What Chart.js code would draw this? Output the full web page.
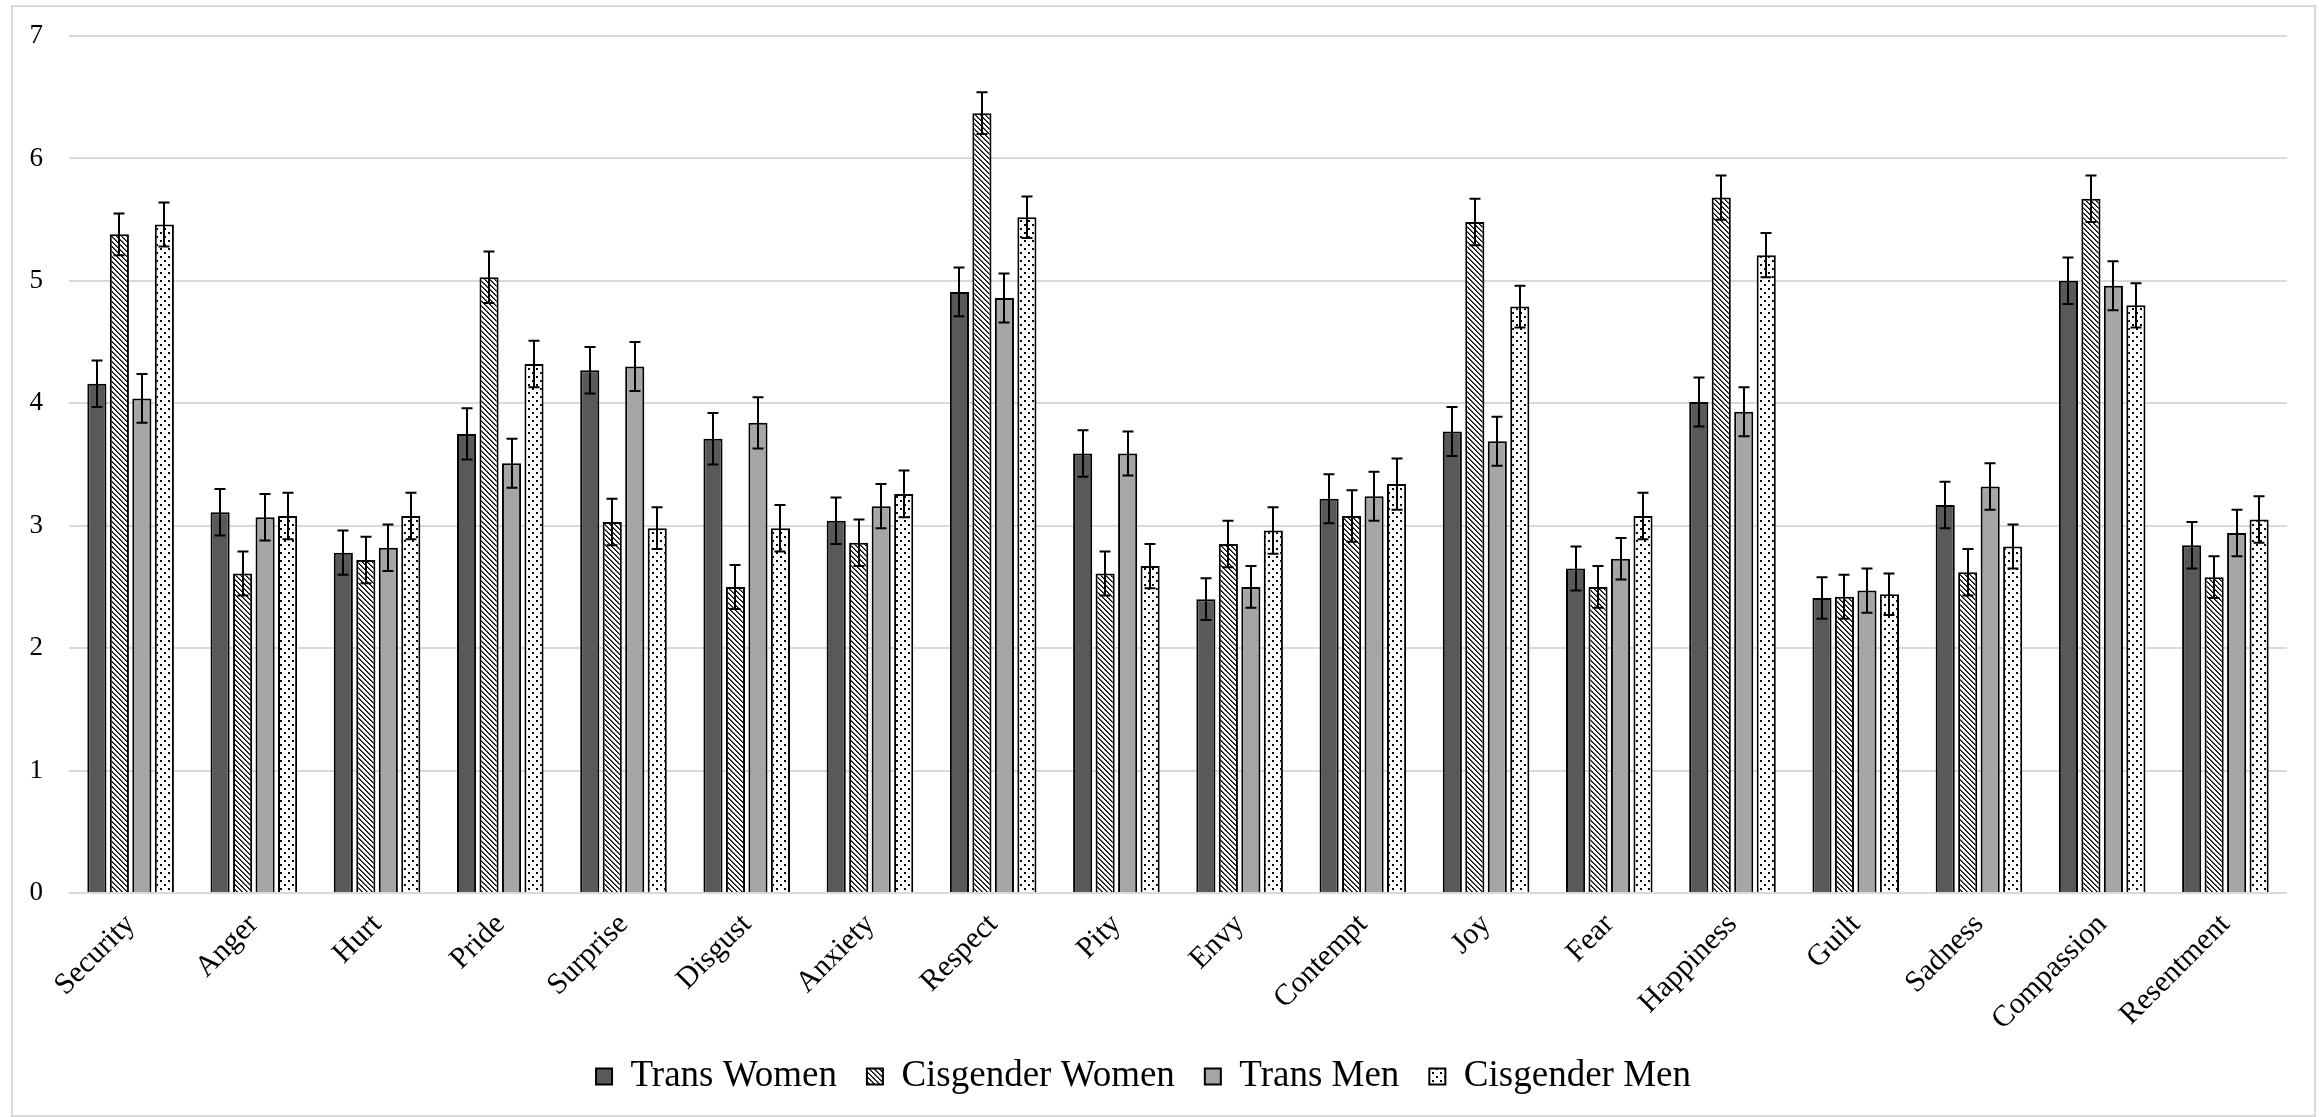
<!DOCTYPE html>
<html>
<head>
<meta charset="utf-8">
<script src="https://cdn.jsdelivr.net/npm/chart.js@4/dist/chart.umd.min.js"></script>
<style>
html,body{margin:0;padding:0;background:#fff;}
#wrap{position:absolute;left:0;top:0;width:2319px;height:1117px;}
</style>
</head>
<body>
<div id="wrap"><canvas id="c" width="2319" height="1117"></canvas></div>
<script>
const categories = ["Security","Anger","Hurt","Pride","Surprise","Disgust","Anxiety","Respect","Pity","Envy","Contempt","Joy","Fear","Happiness","Guilt","Sadness","Compassion","Resentment"];
const seriesNames = ["Trans Women","Cisgender Women","Trans Men","Cisgender Men"];
const transWomen = [4.16,3.11,2.78,3.75,4.27,3.71,3.04,4.91,3.59,2.40,3.22,3.77,2.65,4.01,2.41,3.17,5.00,2.84];
const cisWomen   = [5.38,2.61,2.72,5.03,3.03,2.50,2.86,6.37,2.61,2.85,3.08,5.48,2.50,5.68,2.42,2.62,5.67,2.58];
const transMen   = [4.04,3.07,2.82,3.51,4.30,3.84,3.16,4.86,3.59,2.50,3.24,3.69,2.73,3.93,2.47,3.32,4.96,2.94];
const cisMen     = [5.46,3.08,3.08,4.32,2.98,2.98,3.26,5.52,2.67,2.96,3.34,4.79,3.08,5.21,2.44,2.83,4.80,3.05];
const errTransWomen = [0.19,0.19,0.18,0.21,0.19,0.21,0.19,0.20,0.19,0.17,0.20,0.20,0.18,0.20,0.17,0.19,0.19,0.19];
const errCisWomen   = [0.17,0.18,0.19,0.21,0.19,0.18,0.19,0.17,0.18,0.19,0.21,0.19,0.17,0.18,0.18,0.19,0.19,0.17];
const errTransMen   = [0.20,0.19,0.19,0.20,0.20,0.21,0.18,0.20,0.18,0.17,0.20,0.20,0.17,0.20,0.18,0.19,0.20,0.19];
const errCisMen     = [0.18,0.19,0.19,0.19,0.17,0.19,0.19,0.17,0.18,0.19,0.21,0.17,0.19,0.18,0.17,0.18,0.18,0.19];
const yTicks = [0,1,2,3,4,5,6,7];

const FAMILY = "'Liberation Serif', 'DejaVu Serif', serif";

function makeTile(w, h, draw){
  const t = document.createElement('canvas');
  t.width = w; t.height = h;
  const g = t.getContext('2d');
  g.fillStyle = '#ffffff'; g.fillRect(0,0,w,h);
  draw(g);
  return document.getElementById('c').getContext('2d').createPattern(t,'repeat');
}
const hatch = makeTile(10, 10, g => {
  for(let y=0;y<10;y++) for(let x=0;x<10;x++){
    const m = ((x-y)%5+5)%5;
    if(m===0){ g.fillStyle='#000'; g.fillRect(x,y,1,1); }
    else if(m===1){ g.fillStyle='#555'; g.fillRect(x,y,1,1); }
  }
});
const dots = makeTile(8, 8, g => { g.fillStyle='#000'; g.fillRect(0,0,2,2); g.fillRect(4,4,2,2); });

const errors = [errTransWomen, errCisWomen, errTransMen, errCisMen];

const errorBarPlugin = {
  id:'errorBars',
  afterDatasetsDraw(chart){
    const ctx = chart.ctx, ys = chart.scales.y;
    ctx.save();
    ctx.strokeStyle = '#000'; ctx.lineWidth = 2;
    chart.data.datasets.forEach((ds, di) => {
      const meta = chart.getDatasetMeta(di);
      meta.data.forEach((el, i) => {
        const v = ds.data[i], e = errors[di][i];
        const x = Math.round(el.x);
        const yt = ys.getPixelForValue(v + e), yb = ys.getPixelForValue(v - e);
        ctx.beginPath();
        ctx.moveTo(x, yt); ctx.lineTo(x, yb);
        ctx.moveTo(x-5.5, yt); ctx.lineTo(x+5.5, yt);
        ctx.moveTo(x-5.5, yb); ctx.lineTo(x+5.5, yb);
        ctx.stroke();
      });
    });
    ctx.restore();
  }
};
const framePlugin = {
  id:'frame',
  beforeDraw(chart){
    const ctx = chart.ctx;
    ctx.save();
    ctx.fillStyle = '#fff'; ctx.fillRect(0,0,chart.width,chart.height);
    ctx.strokeStyle = '#d9d9d9'; ctx.lineWidth = 2;
    ctx.strokeRect(12, 6, 2303, 1110);
    ctx.restore();
  }
};

const fills = ['#595959', hatch, '#a6a6a6', dots];
const values = [transWomen, cisWomen, transMen, cisMen];

function build(){
  new Chart(document.getElementById('c'), {
    type:'bar',
    data:{
      labels: categories,
      datasets: seriesNames.map((n,i) => ({
        label:n, data:values[i], backgroundColor:fills[i], borderColor:'#000', borderWidth:2,
        categoryPercentage:0.73, barPercentage:0.85
      }))
    },
    options:{
      responsive:false, animation:false, devicePixelRatio:1,
      layout:{padding:{left:0,right:32,top:36,bottom:12}},
      plugins:{
        legend:{position:'bottom',
          labels:{font:{family:FAMILY, size:37}, color:'#000',
            boxWidth:16, boxHeight:16, padding:30}},
        tooltip:{enabled:false}
      },
      scales:{
        x:{
          grid:{display:false, drawTicks:false}, border:{display:false},
          ticks:{autoSkip:false, maxRotation:45, minRotation:45, padding:14, color:'#000',
            font:{family:FAMILY, size:30}},
          afterFit(s){ s.height = 135; }
        },
        y:{
          min:0, max:7,
          afterBuildTicks(s){ s.ticks = yTicks.map(v => ({value:v})); },
          grid:{color:'#d9d9d9', lineWidth:2, drawTicks:false}, border:{display:false},
          ticks:{padding:26, color:'#000', font:{family:FAMILY, size:27}},
          afterFit(s){ s.width = 69; s.paddingTop = 0; s.paddingBottom = 0; }
        }
      }
    },
    plugins:[framePlugin, errorBarPlugin]
  });
}
Promise.all([
  document.fonts.load("37px 'Liberation Serif'"),
  document.fonts.load("30px 'Liberation Serif'")
]).then(build, build);
</script>
</body>
</html>
